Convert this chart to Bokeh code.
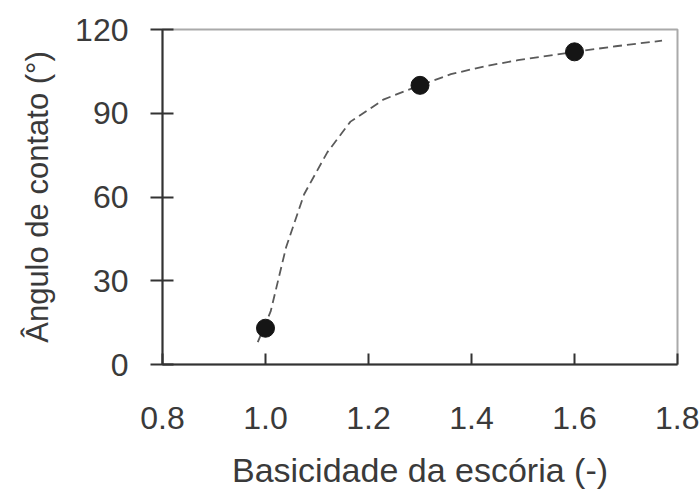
from bokeh.plotting import figure
from bokeh.models import Range1d, FixedTicker, PrintfTickFormatter
from bokeh.embed import file_html
from bokeh.resources import INLINE

# Measured points
basicity = [1.0, 1.3, 1.6]
angle = [13, 100, 112]

# Dashed trend curve
curve_x = [0.985, 1.01, 1.04, 1.075, 1.12, 1.165, 1.23, 1.30, 1.36, 1.43, 1.49, 1.60, 1.68, 1.77]
curve_y = [8, 19, 42, 61, 76, 87, 95, 100, 104, 107, 109, 112, 114, 116]

x_ticks = [0.8, 1.0, 1.2, 1.4, 1.6, 1.8]
y_ticks = [0, 30, 60, 90, 120]

FONT = "Liberation Sans"
TXT = "#3a3a3a"

p = figure(width=699, height=493, output_backend="svg", toolbar_location=None,
           x_range=Range1d(0.8, 1.8), y_range=Range1d(0, 120),
           min_border_left=162, min_border_right=22, min_border_top=29, min_border_bottom=129)

p.line(curve_x, curve_y, line_color="#5a5a5a", line_width=1.8, line_dash="9 5")
p.scatter(basicity, angle, size=18, fill_color="#151515", line_color="#151515")

p.grid.visible = False
p.outline_line_color = "#aaaaaa"
p.outline_line_width = 2
p.background_fill_color = "white"
p.border_fill_color = "white"

xa = p.xaxis[0]
xa.ticker = FixedTicker(ticks=x_ticks)
xa.formatter = PrintfTickFormatter(format="%.1f")
xa.axis_label = "Basicidade da escória (-)"
xa.major_tick_in = 11
xa.major_tick_out = 0
xa.minor_tick_line_color = None
xa.major_label_standoff = 42
xa.axis_label_standoff = 19
xa.axis_label_text_font_size = "34px"

ya = p.yaxis[0]
ya.ticker = FixedTicker(ticks=y_ticks)
ya.axis_label = "Ângulo de contato (°)"
ya.major_tick_in = 11
ya.major_tick_out = 12
ya.minor_tick_line_color = None
ya.major_label_standoff = 22
ya.axis_label_standoff = 17
ya.axis_label_text_font_size = "31px"

for ax in (xa, ya):
    ax.axis_line_color = "#333333"
    ax.axis_line_width = 2
    ax.major_tick_line_color = "#333333"
    ax.major_tick_line_width = 2
    ax.major_label_text_font = FONT
    ax.major_label_text_font_size = "32px"
    ax.major_label_text_color = TXT
    ax.axis_label_text_font = FONT
    ax.axis_label_text_font_style = "normal"
    ax.axis_label_text_color = TXT

open("out.html", "w").write(file_html(p, INLINE))
